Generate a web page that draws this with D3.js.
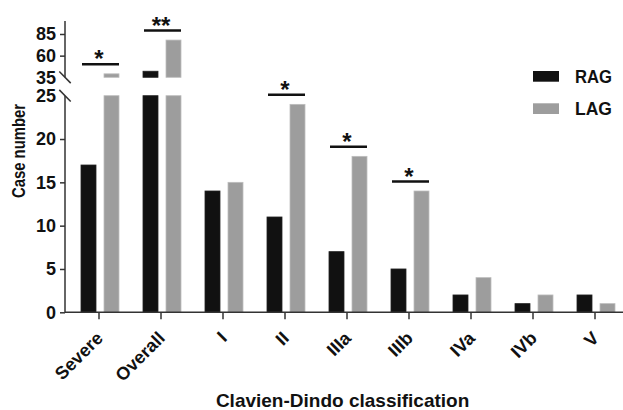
<!DOCTYPE html>
<html>
<head>
<meta charset="utf-8">
<script src="https://cdn.jsdelivr.net/npm/d3@7"></script>
<style>
  body { margin: 0; background: #fff; }
  svg { display: block; }
  svg text { font-family: "Liberation Sans", Arial, sans-serif; font-weight: bold; }
</style>
</head>
<body>
<div id="chart"></div>
<script>
// data
const categories = ["Severe", "Overall", "I", "II", "IIIa", "IIIb", "IVa", "IVb", "V"];
const ragValues = [17, 42, 14, 11, 7, 5, 2, 1, 2];
const lagValues = [39, 78, 15, 24, 18, 14, 4, 2, 1];
const seriesNames = ["RAG", "LAG"];
const seriesColors = ["#111111", "#9d9d9d"];
const sigCategories = ["Severe", "Overall", "II", "IIIa", "IIIb"];
const sigLabels = ["*", "**", "*", "*", "*"];
const lowTicks = [0, 5, 10, 15, 20, 25];
const highTicks = [35, 60, 85];

const width = 623, height = 410;
const axisX = 65, axisRight = 623;
const fontFamily = '"Liberation Sans", Arial, sans-serif';

const svg = d3.select("#chart").append("svg")
    .attr("width", width)
    .attr("height", height);

// broken y axis: two linear pieces
const yLow = d3.scaleLinear().domain([0, 25]).range([312.3, 95.7]);
const yHigh = d3.scaleLinear().domain([35, 100]).range([77.3, 21]);

function yFor(v) {
    return v > 25 ? yHigh(Math.max(v, 35)) : yLow(v);
}

const x = d3.scaleBand().domain(categories).range([68, 626]);
const x1 = d3.scaleBand().domain(seriesNames).range([13, 51]).paddingInner(0.348);

const rows = categories.map((c, i) => ({ cat: c, values: [ragValues[i], lagValues[i]] }));

// bars
const group = svg.append("g").selectAll("g")
    .data(rows)
    .enter().append("g")
    .attr("transform", d => `translate(${x(d.cat)},0)`);

const cells = group.selectAll("g")
    .data(d => d.values.map((v, j) => ({ name: seriesNames[j], color: seriesColors[j], v: v })))
    .enter().append("g");

// lower piece, capped at 25
cells.append("rect")
    .attr("x", d => x1(d.name))
    .attr("width", x1.bandwidth())
    .attr("y", d => yLow(Math.min(d.v, 25)))
    .attr("height", d => yLow(0) - yLow(Math.min(d.v, 25)))
    .attr("fill", d => d.color)
    .attr("stroke", d => d.name === "LAG" ? "#bdbdbd" : "#222")
    .attr("stroke-width", 0.8);

// upper piece, from 35 up
cells.filter(d => d.v > 35).append("rect")
    .attr("x", d => x1(d.name))
    .attr("width", x1.bandwidth())
    .attr("y", d => yHigh(d.v))
    .attr("height", d => yHigh(35) - yHigh(d.v))
    .attr("fill", d => d.color)
    .attr("stroke", d => d.name === "LAG" ? "#bdbdbd" : "#222")
    .attr("stroke-width", 0.8);

// x axis
const xAxis = svg.append("g")
    .attr("transform", `translate(0,${yLow(0)})`)
    .call(d3.axisBottom(x).tickSize(7).tickSizeOuter(0));
xAxis.attr("font-family", fontFamily);
xAxis.select(".domain").remove();
xAxis.selectAll(".tick line").attr("stroke", "#333").attr("stroke-width", 1.5);
xAxis.selectAll(".tick text")
    .attr("font-size", 18)
    .attr("fill", "#111")
    .attr("text-anchor", "end")
    .attr("x", 0).attr("y", 0).attr("dy", 0)
    .attr("transform", "translate(5,27) rotate(-45)");
svg.append("line")
    .attr("x1", axisX).attr("x2", axisRight)
    .attr("y1", yLow(0)).attr("y2", yLow(0))
    .attr("stroke", "#333").attr("stroke-width", 1.5);

// y axes
function styleY(g, breakVal) {
    g.attr("font-family", fontFamily);
    g.select(".domain").remove();
    g.selectAll(".tick line").attr("stroke", "#333").attr("stroke-width", 1.5);
    g.selectAll(".tick").filter(d => d === breakVal).select("line").remove();
    g.selectAll(".tick text")
        .attr("font-size", 18)
        .attr("fill", "#111");
}

const yLowAxis = svg.append("g")
    .attr("transform", `translate(${axisX},0)`)
    .call(d3.axisLeft(yLow).tickValues(lowTicks).tickSize(5).tickPadding(4));
styleY(yLowAxis, 25);

const yHighAxis = svg.append("g")
    .attr("transform", `translate(${axisX},0)`)
    .call(d3.axisLeft(yHigh).tickValues(highTicks).tickSize(5).tickPadding(4));
styleY(yHighAxis, 35);

svg.append("line")
    .attr("x1", axisX).attr("x2", axisX)
    .attr("y1", yLow(0)).attr("y2", yLow(25))
    .attr("stroke", "#333").attr("stroke-width", 1.5);
svg.append("line")
    .attr("x1", axisX).attr("x2", axisX)
    .attr("y1", yHigh(35)).attr("y2", yHigh(100))
    .attr("stroke", "#333").attr("stroke-width", 1.5);

// break marks
[yLow(25), yHigh(35)].forEach(yy => {
    svg.append("line")
        .attr("x1", axisX - 5.7).attr("y1", yy - 5.8)
        .attr("x2", axisX + 5.7).attr("y2", yy + 5.8)
        .attr("stroke", "#333").attr("stroke-width", 1.5);
});

// significance bars
const sig = svg.append("g").selectAll("g")
    .data(sigCategories.map((c, i) => {
        const k = categories.indexOf(c);
        return { cat: c, label: sigLabels[i], top: Math.max(ragValues[k], lagValues[k]) };
    }))
    .enter().append("g");

sig.append("line")
    .attr("x1", d => x(d.cat) + x1("RAG") + 1)
    .attr("x2", d => x(d.cat) + x1("LAG") + x1.bandwidth())
    .attr("y1", d => yFor(d.top) - 9.5)
    .attr("y2", d => yFor(d.top) - 9.5)
    .attr("stroke", "#111")
    .attr("stroke-width", 2.5);

sig.append("text")
    .attr("x", d => x(d.cat) + x.bandwidth() / 2)
    .attr("y", d => yFor(d.top) - 9.5 + 3)
    .attr("text-anchor", "middle")
    .attr("font-size", 24)
    .attr("fill", "#111")
    .text(d => d.label);

// legend
const legend = svg.append("g").selectAll("g")
    .data(seriesNames)
    .enter().append("g")
    .attr("transform", (d, i) => `translate(533,${71 + i * 32.3})`);
legend.append("rect")
    .attr("width", 26).attr("height", 10.7)
    .attr("fill", (d, i) => seriesColors[i]);
legend.append("text")
    .attr("x", 42).attr("y", 11.9)
    .attr("font-size", 18)
    .attr("textLength", 37)
    .attr("lengthAdjust", "spacingAndGlyphs")
    .attr("fill", "#111")
    .text(d => d);

// titles
svg.append("text")
    .attr("x", 342.6).attr("y", 407)
    .attr("text-anchor", "middle")
    .attr("font-size", 19)
    .attr("fill", "#111")
    .text("Clavien-Dindo classification");

svg.append("text")
    .attr("transform", "translate(25,151) rotate(-90)")
    .attr("text-anchor", "middle")
    .attr("font-size", 18)
    .attr("textLength", 94)
    .attr("lengthAdjust", "spacingAndGlyphs")
    .attr("fill", "#111")
    .text("Case number");
</script>
</body>
</html>
